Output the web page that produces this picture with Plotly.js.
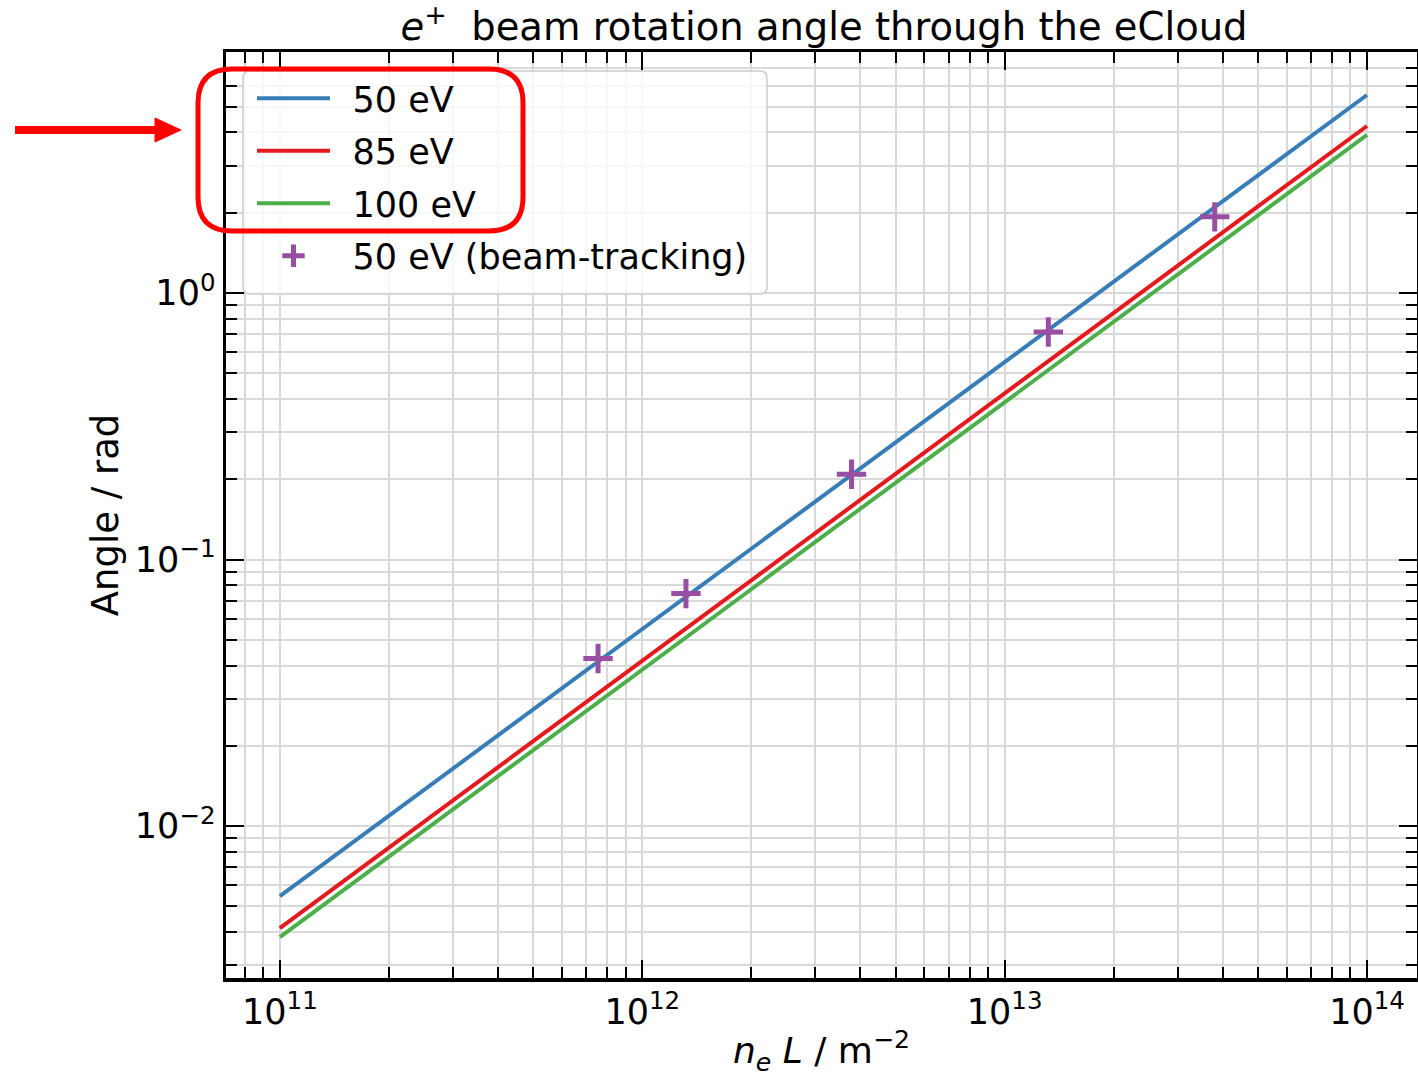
<!DOCTYPE html>
<html><head><meta charset="utf-8">
<script src="https://cdn.plot.ly/plotly-3.0.1.min.js"></script>
<style>html,body{margin:0;padding:0;background:#fff}#chart{width:1418px;height:1077px}</style>
</head><body><div id="chart"></div>
<script>
// ---- data ----
const lineX = [1e11, 1e14];
const angle50 = [5.46e-3, 5.53];
const angle85 = [4.14e-3, 4.23];
const angle100 = [3.83e-3, 3.92];
const trackX = [7.55e11, 1.32e12, 3.78e12, 1.32e13, 3.80e13];
const trackY = [0.0425, 0.0745, 0.209, 0.714, 1.93];
const seriesNames = ['50 eV', '85 eV', '100 eV', '50 eV (beam-tracking)'];
const xTickVals = [1e11, 1e12, 1e13, 1e14];
const xTickText = ['10<sup>11</sup>', '10<sup>12</sup>', '10<sup>13</sup>', '10<sup>14</sup>'];
const yTickVals = [0.01, 0.1, 1];
const yTickText = ['10<sup>\u22122</sup>', '10<sup>\u22121</sup>', '10<sup>0</sup>'];

// ---- styling ----
const FONT = 'DejaVu Sans';
const W = 1418, H = 1077;
const L = 226, R = 1417, T = 52, B = 978;
const pw = R - L, ph = B - T;
const px = x => (x - L) / pw;
const py = y => (B - y) / ph;

function minorVals(lo, hi) {
  const v = [];
  for (let e = lo; e <= hi; e++) for (let d = 2; d <= 9; d++) v.push(d * Math.pow(10, e));
  return v;
}

const colors = ['#377eb8', '#e41a1c', '#4daf4a', '#984ea3'];
const pad = '\u2002';
const traces = [
  {x: lineX, y: angle50, name: pad + seriesNames[0], legendgroup: 'a', mode: 'lines', line: {color: colors[0], width: 4}},
  {x: lineX, y: angle85, name: pad + seriesNames[1], legendgroup: 'b', mode: 'lines', line: {color: colors[1], width: 4}},
  {x: lineX, y: angle100, name: pad + seriesNames[2], legendgroup: 'c', mode: 'lines', line: {color: colors[2], width: 4}},
  {x: trackX, y: trackY, name: pad + seriesNames[3], legendgroup: 'd', mode: 'markers',
   marker: {symbol: 'cross-thin', size: 21, color: colors[3], line: {color: colors[3], width: 5}}}
];

const grid = '#d9d9d9';
function axisCommon() {
  return {
    type: 'log', showline: true, linecolor: 'black', linewidth: 3.5, mirror: 'allticks',
    ticks: 'inside', ticklen: 18, tickwidth: 2, tickcolor: 'black',
    showgrid: true, gridcolor: grid, gridwidth: 2, zeroline: false,
    tickfont: {family: FONT, size: 35, color: 'black'}, tickmode: 'array'
  };
}
const xaxis = Object.assign(axisCommon(), {
  range: [Math.log10(7.1e10), Math.log10(1.374e14)],
  tickvals: xTickVals, ticktext: xTickText,
  minor: {tickmode: 'array', tickvals: minorVals(10, 14), ticks: 'inside', ticklen: 11, tickwidth: 2,
          tickcolor: 'black', showgrid: true, gridcolor: grid, gridwidth: 2},
  title: {text: '<i>n<sub>e</sub> L</i> / m<sup>\u22122</sup>', font: {family: FONT, size: 36, color: 'black'}, standoff: 12}
});
const yaxis = Object.assign(axisCommon(), {
  range: [-2.570, 0.904],
  tickvals: yTickVals, ticktext: yTickText,
  minor: {tickmode: 'array', tickvals: minorVals(-3, 1), ticks: 'inside', ticklen: 11, tickwidth: 2,
          tickcolor: 'black', showgrid: true, gridcolor: grid, gridwidth: 2},
  title: {text: 'Angle / rad', font: {family: FONT, size: 37, color: 'black'}, standoff: 6}
});

// rounded rectangle in pixel geometry -> paper path
function roundRect(x0, y0, x1, y1, r) {
  const P = (x, y) => px(x) + ',' + py(y);
  return 'M' + P(x0 + r, y0) + ' L' + P(x1 - r, y0) + ' Q' + P(x1, y0) + ' ' + P(x1, y0 + r) +
         ' L' + P(x1, y1 - r) + ' Q' + P(x1, y1) + ' ' + P(x1 - r, y1) +
         ' L' + P(x0 + r, y1) + ' Q' + P(x0, y1) + ' ' + P(x0, y1 - r) +
         ' L' + P(x0, y0 + r) + ' Q' + P(x0, y0) + ' ' + P(x0 + r, y0) + ' Z';
}
const shapes = [
  // legend frame
  {type: 'path', xref: 'paper', yref: 'paper', path: roundRect(243, 71, 767, 294, 7),
   line: {color: '#cccccc', width: 1.5}, fillcolor: 'rgba(255,255,255,0.8)', layer: 'above'},
  // red highlight
  {type: 'path', xref: 'paper', yref: 'paper', path: roundRect(198, 69, 523, 231, 34),
   line: {color: '#ff0000', width: 5}, fillcolor: 'rgba(0,0,0,0)', layer: 'above'},
  {type: 'line', xref: 'paper', yref: 'paper', x0: px(15), x1: px(160), y0: py(130), y1: py(130),
   line: {color: '#ff0000', width: 8}, layer: 'above'},
  {type: 'path', xref: 'paper', yref: 'paper',
   path: 'M' + px(155) + ',' + py(118) + ' L' + px(181) + ',' + py(130) + ' L' + px(155) + ',' + py(142) + ' Z',
   line: {color: '#ff0000', width: 1}, fillcolor: '#ff0000', layer: 'above'}
];

const layout = {
  width: W, height: H,
  margin: {l: L, r: W - R, t: T, b: H - B, pad: 0},
  paper_bgcolor: 'white', plot_bgcolor: 'white',
  font: {family: FONT, color: 'black'},
  title: {text: '<i>e</i><sup>+</sup>\u00a0 beam rotation angle through the eCloud',
          font: {family: FONT, size: 38.5, color: 'black'},
          x: px(824), xref: 'paper', xanchor: 'center', y: 1 - 27 / H, yref: 'container', yanchor: 'middle'},
  xaxis: xaxis, yaxis: yaxis,
  showlegend: true,
  legend: {x: px(252), y: py(69), xanchor: 'left', yanchor: 'top', xref: 'paper', yref: 'paper',
           bgcolor: 'rgba(0,0,0,0)', borderwidth: 0,
           font: {family: FONT, size: 35, color: 'black'}, itemwidth: 73, traceorder: 'grouped',
           tracegroupgap: 4},
  shapes: shapes
};

Plotly.newPlot('chart', traces, layout, {staticPlot: true, displayModeBar: false});
</script>
</body></html>
